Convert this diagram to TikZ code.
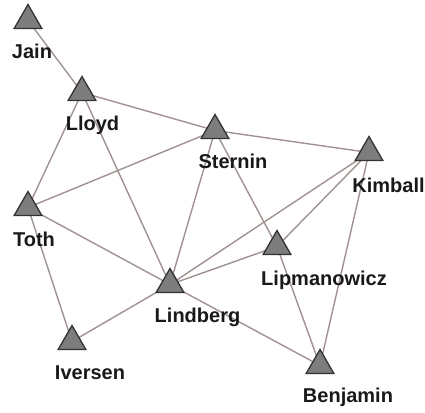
\documentclass[tikz,border=0pt]{standalone}
\usepackage{fontspec}
\setmainfont{Liberation Sans}
\usetikzlibrary{shapes.geometric,backgrounds}
\definecolor{edgecol}{RGB}{160,146,142}
\definecolor{trifill}{RGB}{125,125,125}
\definecolor{triline}{RGB}{50,50,50}
\tikzset{
  actor/.style={regular polygon, regular polygon sides=3, minimum size=32pt, inner sep=0pt,
    fill=trifill, draw=triline, line width=1.3pt},
  lab/.style={anchor=base, inner sep=0pt, font=\bfseries\fontsize{20}{20}\selectfont, text=black!90},
  link/.style={draw=edgecol, line width=1.4pt}
}
\begin{document}
\begin{tikzpicture}[x=1pt,y=-1pt]
\useasboundingbox (0,0) rectangle (425,412);
\node[actor] (jain) at (28,20.5) {};
\node[actor] (lloyd) at (82,92.5) {};
\node[actor] (sternin) at (215,130.5) {};
\node[actor] (kimball) at (369,152.5) {};
\node[actor] (toth) at (28,207.5) {};
\node[actor] (lindberg) at (170,284.5) {};
\node[actor] (iversen) at (72,341.5) {};
\node[actor] (lipman) at (277,246.5) {};
\node[actor] (benjamin) at (320,365.5) {};
\node[lab] (jainL) at (32,59) {Jain};
\node[lab] (lloydL) at (92.5,130) {Lloyd};
\node[lab] (sterninL) at (233,168) {Sternin};
\node[lab] (kimballL) at (388.5,192) {Kimball};
\node[lab] (tothL) at (34,246) {Toth};
\node[lab] (lindbergL) at (197.5,322) {Lindberg};
\node[lab] (iversenL) at (90,379) {Iversen};
\node[lab] (lipmanL) at (324,285) {Lipmanowicz};
\node[lab] (benjaminL) at (348,402) {Benjamin};
\begin{scope}[on background layer]
\foreach \a/\b in {jain/lloyd, lloyd/sternin, lloyd/toth, lloyd/lindberg,
  sternin/kimball, sternin/toth, sternin/lindberg, sternin/lipman,
  kimball/lindberg, kimball/lipman, kimball/benjamin,
  toth/lindberg, toth/iversen, lindberg/iversen, lindberg/benjamin,
  lindberg/lipman, lipman/benjamin}
  \draw[link] (\a.center) -- (\b.center);
\end{scope}
\end{tikzpicture}
\end{document}
